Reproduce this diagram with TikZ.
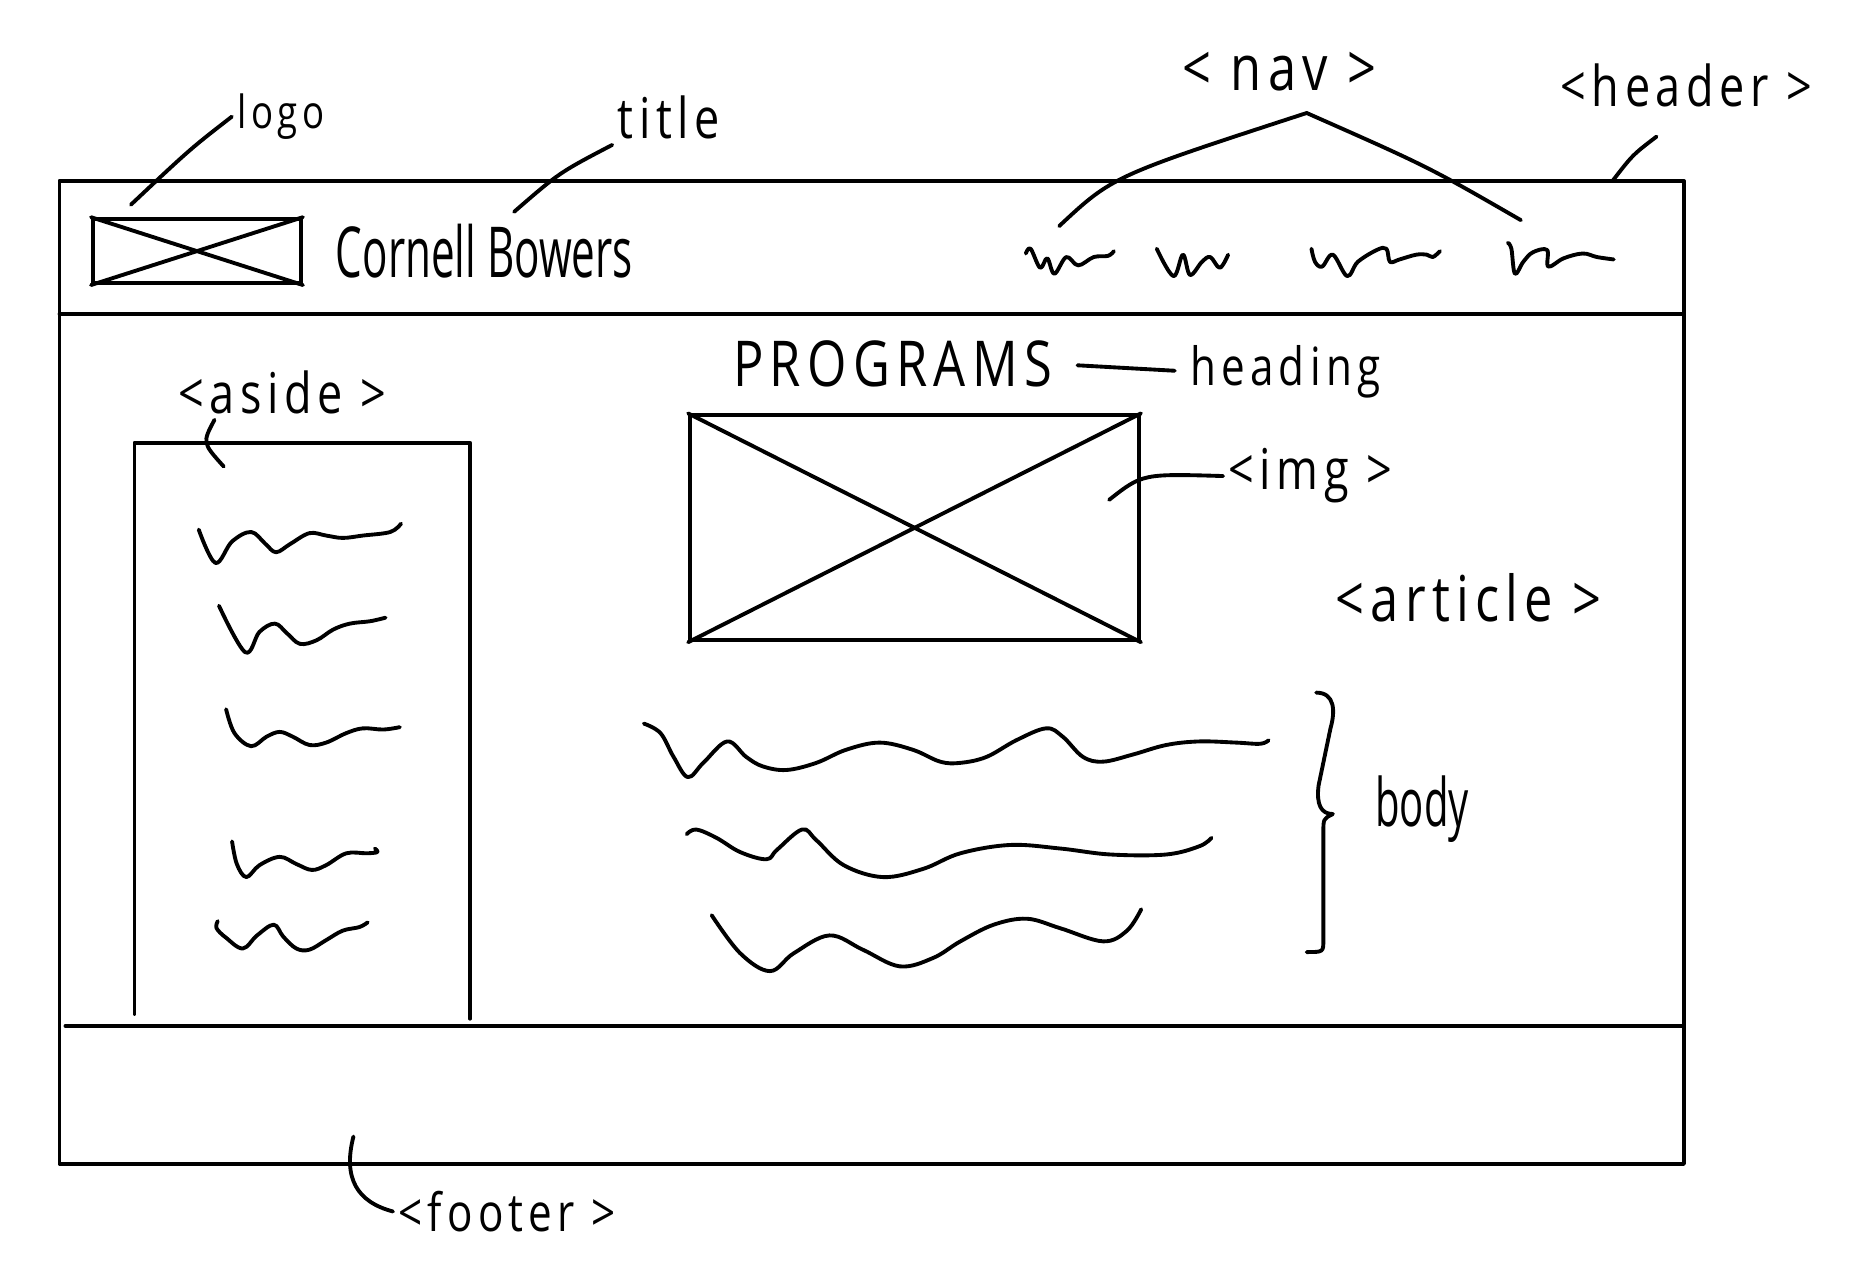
\documentclass[tikz,border=0pt]{standalone}
\usepackage{fontspec}
\usetikzlibrary{arrows.meta,positioning,calc}
\newfontfamily\handfont[FakeStretch=0.6]{Open Sans}
\newfontfamily\notefont[FakeStretch=0.8,LetterSpace=10]{Open Sans}

\begin{document}
\begin{tikzpicture}[x=0.0119cm,y=-0.0119cm,line width=1.1pt,line cap=round,line join=round,
    hand/.style={font=\handfont\fontsize{#1}{#1}\selectfont, inner sep=1pt},
    hand/.default=18pt,
    note/.style={font=\notefont\fontsize{#1}{#1}\selectfont, inner sep=1pt},
    note/.default=18pt,
    scribble/.style={smooth, tension=0.6}]
            \useasboundingbox (0,0) rectangle (1568,1079);

            % Page frame
            \draw (50,152) rectangle (1415,978);
            \draw (50,264) -- (1415,264);
            \draw (55,862) -- (1413,862);

            % Header
            \node[draw, minimum width=2.08cm, minimum height=0.64cm] (logobox) at (165.5,211) {};
            \draw (logobox.north west) -- (logobox.south east);
            \draw (logobox.south west) -- (logobox.north east);
            \node[hand=20pt] (brand) at (407,211) {Cornell Bowers};

            % Nav items
            \draw[scribble] plot coordinates {(862,213) (866,209) (874,225) (880,217) (886,230) (896,216) (906,223) (919,216) (931,215) (936,211)};
            \draw[scribble] plot coordinates {(972,209) (986,232) (994,214) (1000,231) (1010,220) (1017,216) (1025,225) (1032,214)};
            \draw[scribble] plot coordinates {(1102,209) (1105,220) (1111,224) (1120,214) (1132,232) (1141,220) (1157,210) (1165,209) (1168,220) (1176,218) (1190,214) (1199,214) (1204,216) (1210,211)};
            \draw[scribble] plot coordinates {(1267,204) (1270,209) (1273,230) (1280,220) (1288,212) (1300,210) (1301,224) (1314,217) (1330,213) (1342,216) (1356,218)};

            % Aside
            \draw (113,852) -- (113,372) -- (395,372) -- (395,856);
            \draw[scribble] plot coordinates {(167,445) (181,473) (195,455) (211,447) (223,457) (232,464) (244,457) (260,448) (274,450) (288,452) (305,450) (328,447) (337,440)};
            \draw[scribble] plot coordinates {(184,509) (206,548) (218,531) (231,524) (241,532) (252,541) (266,538) (280,529) (294,524) (311,522) (324,519)};
            \draw[scribble] plot coordinates {(190,596) (197,616) (211,627) (224,619) (235,615) (246,619) (260,626) (274,624) (291,616) (305,612) (322,613) (336,611)};
            \draw[scribble] plot coordinates {(195,707) (199,726) (207,737) (218,727) (235,720) (249,726) (262,731) (274,727) (291,717) (308,717) (317,716) (315,713)};
            \draw[scribble] plot coordinates {(183,774) (182,780) (190,788) (204,797) (216,786) (230,777) (238,787) (249,797) (260,798) (274,790) (288,782) (302,779) (309,775)};

            % Article
            \node[note] (programs) at (750,306) {PROGRAMS};
            \node[draw, minimum width=4.49cm, minimum height=2.25cm] (imgbox) at (768.5,443.5) {};
            \draw (imgbox.north west) -- (imgbox.south east);
            \draw (imgbox.south west) -- (imgbox.north east);
            \draw[scribble] plot coordinates {(541,608) (555,616) (566,636) (578,653) (591,641) (611,623) (627,636) (641,644) (661,647) (686,641) (711,630) (739,624) (767,630) (790,640) (807,641) (829,636) (854,622) (879,612) (893,619) (910,636) (927,640) (952,634) (980,626) (1008,623) (1039,624) (1059,625) (1066,622)};
            \draw[scribble] plot coordinates {(577,701) (585,697) (602,704) (622,716) (644,722) (653,714) (674,697) (686,706) (709,727) (742,737) (776,730) (807,717) (849,710) (891,713) (933,718) (980,718) (1008,711) (1018,704)};
            \draw[scribble] plot coordinates {(598,769) (622,801) (647,816) (667,801) (697,786) (725,798) (756,812) (784,805) (807,791) (835,777) (863,772) (891,780) (927,791) (947,782) (959,764)};

            % Labels
            \node[note=13pt] (logo) at (236,98) {logo};
            \node[note=16pt] (title) at (562,99) {title};
            \node[note] (nav) at (1075,60) {< nav >};
            \node[note=16pt] (header) at (1417,72) {<header >};
            \node[note=16pt] (aside) at (237,330) {<aside >};
            \node[note=15pt] (heading) at (1080,312) {heading};
            \node[note=16pt] (img) at (1101,400) {<img >};
            \node[note] (article) at (1234,502) {<article >};
            \node[hand=19pt] (body) at (1195,680) {body};
            \node[note=15pt] (footer) at (426,1018) {<footer >};

            % Leaders
            \coordinate (logotip) at (110,172);
            \draw (logo.west) .. controls (160,125) .. (logotip);
            \coordinate (titletip) at (432,178);
            \draw (title.south west) .. controls (470,145) .. (titletip);
            \coordinate (navapex) at ($(nav.south)+(23,14)$);
            \coordinate (navleft) at (890,190);
            \coordinate (navright) at (1278,185);
            \draw (navleft) .. controls (935,148) .. (navapex) .. controls (1200,140) .. (navright);
            \coordinate (headertip) at (1355,152);
            \draw ($(header.south)+(-25,20)$) .. controls (1372,130) .. (headertip);
            \coordinate (asidetip) at (188,392);
            \draw ($(aside.south west)+(35,0)$) .. controls (170,372) .. (asidetip);
            \draw[shorten <=0.2cm, shorten >=0.1cm] (programs.east) -- (heading.west);
            \coordinate (imgtip) at (932,420);
            \draw (imgtip) .. controls (960,398) .. (img.west);
            \coordinate (footertip) at (297,955);
            \draw (footertip) .. controls (288,990) and (300,1010) .. (footer.west);

            % Body brace
            \draw (1106,582) .. controls (1122,582) and (1122,598) .. (1118,612) -- (1108,660)
                .. controls (1106,676) and (1110,684) .. (1120,684)
                .. controls (1112,688) .. (1112,700) -- (1112,790)
                .. controls (1112,800) .. (1098,800);
        \end{tikzpicture}
\end{document}
